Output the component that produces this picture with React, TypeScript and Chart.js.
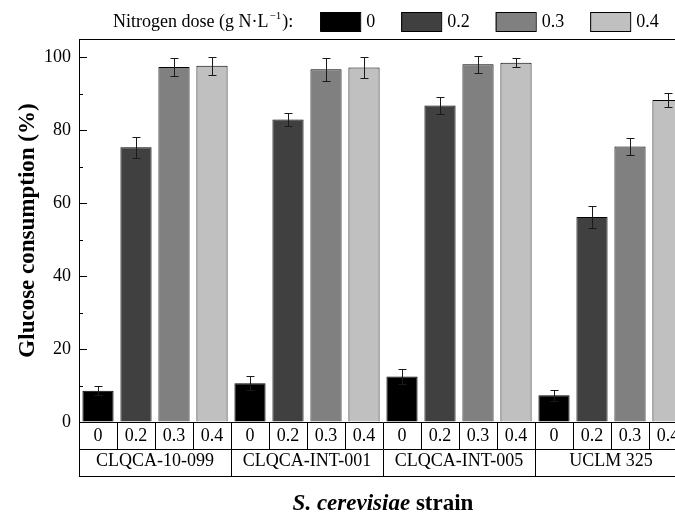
import React, { useEffect, useRef } from 'react';
import { Chart, registerables } from 'chart.js';

Chart.register(...registerables);

// ---- data ----
const strains = ['CLQCA-10-099', 'CLQCA-INT-001', 'CLQCA-INT-005', 'UCLM 325'];
const doses = ['0', '0.2', '0.3', '0.4'];
const dose0 = [8.6, 10.6, 12.5, 7.3];
const dose02 = [75.3, 82.9, 86.8, 56.2];
const dose03 = [97.3, 96.7, 98.1, 75.5];
const dose04 = [97.7, 97.2, 98.5, 88.3];
const err0 = [1.3, 1.9, 2.0, 1.5];
const err02 = [2.8, 1.7, 2.3, 3.0];
const err03 = [2.4, 3.2, 2.3, 2.3];
const err04 = [2.5, 2.9, 1.2, 1.9];
const doseColors = ['#000000', '#404040', '#808080', '#c0c0c0'];
const yMin = 0;
const yMax = 105;
const yMinorStep = 10;
const yMajorStep = 20;
const legendPrefix = 'Nitrogen dose (g N·L';
const legendSup = '\u22121';
const legendSuffix = '):';
const yTitle = 'Glucose consumption (%)';
const xTitleItalic = 'S. cerevisiae';
const xTitleRest = ' strain';

const series = [dose0, dose02, dose03, dose04];
const errors = [err0, err02, err03, err04];
const subLabels = strains.flatMap(() => doses);

const FONT = 'Liberation Serif';

const decorPlugin = {
  id: 'decor',
  afterDatasetsDraw(chart: any) {
    const { ctx, chartArea } = chart;
    const y = chart.scales.y;
    ctx.save();
    // error bars
    ctx.strokeStyle = '#1a1a1a';
    ctx.lineWidth = 1;
    series.forEach((_, i) => {
      const meta = chart.getDatasetMeta(i);
      meta.data.forEach((el: any, j: number) => {
        const v = series[i][j];
        const e = errors[i][j];
        const x = Math.round(el.x) + 0.5;
        const yt = Math.round(y.getPixelForValue(v + e)) + 0.5;
        const yb = Math.round(y.getPixelForValue(v - e)) + 0.5;
        ctx.beginPath();
        ctx.moveTo(x, yt);
        ctx.lineTo(x, yb);
        ctx.moveTo(x - 4, yt);
        ctx.lineTo(x + 4, yt);
        ctx.moveTo(x - 4, yb);
        ctx.lineTo(x + 4, yb);
        ctx.stroke();
      });
    });
    ctx.restore();
  },
  afterDraw(chart: any) {
    const { ctx, chartArea } = chart;
    const y = chart.scales.y;
    const xg = chart.scales.x;
    ctx.save();
    ctx.strokeStyle = '#000';
    ctx.lineWidth = 1;
    // inward y ticks
    y.ticks.forEach((t: any) => {
      const py = Math.round(y.getPixelForValue(t.value)) + 0.5;
      const len = t.value % yMajorStep === 0 ? 8 : 4;
      ctx.beginPath();
      ctx.moveTo(chartArea.left, py);
      ctx.lineTo(chartArea.left + len, py);
      ctx.stroke();
    });
    // frame top & right
    const top = Math.round(chartArea.top) + 0.5;
    ctx.beginPath();
    ctx.moveTo(chartArea.left, top);
    ctx.lineTo(chartArea.right, top);
    ctx.lineTo(chartArea.right, chartArea.bottom);
    ctx.stroke();
    // table bottom line
    const bl = Math.round(xg.bottom) - 0.5;
    ctx.beginPath();
    ctx.moveTo(xg.left, bl);
    ctx.lineTo(xg.right, bl);
    ctx.stroke();

    // x title (mixed styles)
    ctx.fillStyle = '#000';
    ctx.textBaseline = 'alphabetic';
    const f1 = `italic bold 23px "${FONT}"`;
    const f2 = `bold 23px "${FONT}"`;
    ctx.font = f1;
    const w1 = ctx.measureText(xTitleItalic).width;
    ctx.font = f2;
    const w2 = ctx.measureText(xTitleRest).width;
    const cx = (chartArea.left + chartArea.right) / 2;
    let tx = cx - (w1 + w2) / 2;
    ctx.font = f1;
    ctx.fillText(xTitleItalic, tx, 510);
    ctx.font = f2;
    ctx.fillText(xTitleRest, tx + w1, 510);

    // legend
    const base = 27;
    let lx = 113;
    ctx.font = `18px "${FONT}"`;
    ctx.fillText(legendPrefix, lx, base);
    lx += ctx.measureText(legendPrefix).width + 1;
    ctx.font = `11px "${FONT}"`;
    ctx.fillText(legendSup, lx, base - 8);
    lx += ctx.measureText(legendSup).width + 1;
    ctx.font = `18px "${FONT}"`;
    ctx.fillText(legendSuffix, lx, base);
    lx += ctx.measureText(legendSuffix).width;
    lx = Math.max(lx + 27, 320);
    doses.forEach((d, i) => {
      ctx.fillStyle = doseColors[i];
      ctx.fillRect(lx, 12, 40, 19);
      ctx.strokeStyle = '#000';
      ctx.strokeRect(lx + 0.5, 12.5, 40, 19);
      ctx.fillStyle = '#000';
      ctx.font = `18px "${FONT}"`;
      ctx.fillText(d, lx + 46, base);
      lx += 46 + ctx.measureText(d).width + 26;
    });
    ctx.restore();
  },
};

export default function App() {
  const ref = useRef<HTMLCanvasElement>(null);
  useEffect(() => {
    Chart.defaults.font.family = FONT;
    Chart.defaults.color = '#000';
    const chart = new Chart(ref.current as HTMLCanvasElement, {
      type: 'bar',
      data: {
        labels: strains,
        datasets: doses.map((d, i) => ({
          label: d,
          data: series[i],
          backgroundColor: doseColors[i],
          borderColor: '#000',
          borderWidth: 1,
          barPercentage: 0.82,
          categoryPercentage: 1.0,
          xAxisID: 'x',
        })),
      },
      options: {
        responsive: false,
        animation: false,
        layout: { padding: { top: 39, left: 0, right: 1, bottom: 36 } },
        plugins: { legend: { display: false }, tooltip: { enabled: false } },
        scales: {
          xSub: {
            type: 'category',
            labels: subLabels,
            position: 'bottom',
            weight: 0,
            offset: true,
            grid: { display: true, drawOnChartArea: false, offset: true, tickLength: 27, color: '#000', lineWidth: 1 },
            border: { display: true, color: '#000', width: 1 },
            ticks: { autoSkip: false, maxRotation: 0, minRotation: 0, padding: -23.5, font: { size: 18 }, color: '#000' },
            afterFit: (s: any) => { s.height = 27; },
          } as any,
          x: {
            type: 'category',
            position: 'bottom',
            weight: 1,
            offset: true,
            grid: { display: true, drawOnChartArea: false, offset: true, tickLength: 28, color: '#000', lineWidth: 1 },
            border: { display: true, color: '#000', width: 1 },
            ticks: { autoSkip: false, maxRotation: 0, minRotation: 0, padding: -27, font: { size: 18 }, color: '#000' },
            afterFit: (s: any) => { s.height = 28; },
          } as any,
          y: {
            type: 'linear',
            min: yMin,
            max: yMax,
            grid: { display: true, drawOnChartArea: false, drawTicks: false },
            border: { display: true, color: '#000', width: 1 },
            ticks: {
              stepSize: yMinorStep,
              includeBounds: false,
              padding: 8,
              font: { size: 18 },
              color: '#000',
              callback: (v: any) => (Number(v) % yMajorStep === 0 ? String(v) : ''),
            },
            title: {
              display: true,
              text: yTitle,
              font: { size: 23, weight: 'bold' },
              color: '#000',
              padding: { top: 14, bottom: 0 },
            },
            afterFit: (s: any) => { s.width = 79; },
          } as any,
        },
      },
      plugins: [decorPlugin],
    });
    return () => chart.destroy();
  }, []);
  return (
    <div style={{ position: 'absolute', left: 0, top: 0, width: 675, height: 513, overflow: 'hidden', background: '#fff' }}>
      <canvas ref={ref} width={688} height={513} style={{ display: 'block' }} />
    </div>
  );
}
